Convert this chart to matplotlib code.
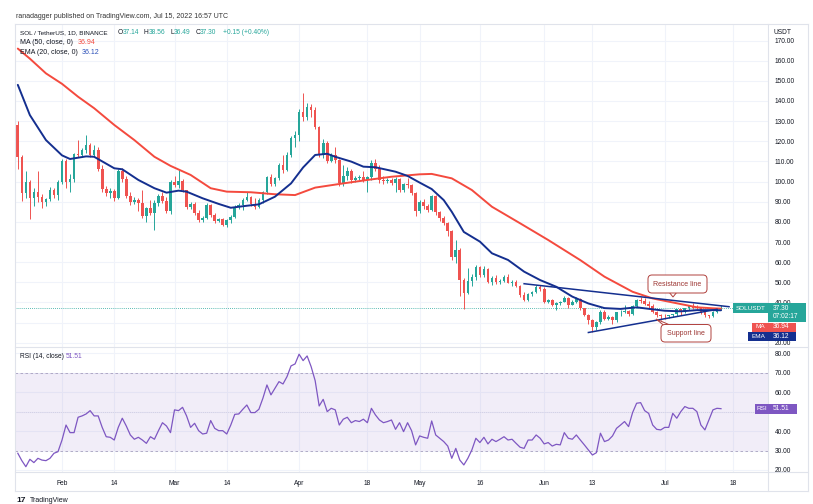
import matplotlib
matplotlib.use("Agg")
import matplotlib.pyplot as plt
import matplotlib.dates as mdates
from matplotlib.patches import Rectangle, FancyBboxPatch, Polygon
from matplotlib.lines import Line2D
from matplotlib.transforms import IdentityTransform
import numpy as np
import pandas as pd

plt.rcParams["font.family"] = ["Liberation Sans", "DejaVu Sans"]

W, H = 813, 504

TEAL = "#26a69a"
RED = "#ef5350"
MA_RED = "#f44a3e"
NAVY = "#142f8f"
PURPLE = "#7e57c2"
TXT = "#131722"
GRID = "#f0f3fa"
BORDER = "#e0e3eb"
NOTE = "#b0403c"

# daily SOL/USDT candles, 2022-01-21 .. 2022-07-15
opens = [128, 112.3, 94.5, 100, 92, 95, 92.5, 90, 91.5, 96, 93.5,
         100, 110, 100, 101.5, 113.5, 113, 115.8, 118, 113.2, 115.5, 106.2, 96.5, 94.5, 95.5,
         92, 105, 101.5, 93, 90, 91, 89.5, 83, 86.7, 84.2, 89.2, 92.8, 90.5, 85.5,
         100, 98.5, 100.5, 95.8, 87.5, 89, 84.2, 81, 82, 88.4, 83.4, 80.4, 81.5, 78.5, 81, 82.5,
         87.5, 88.5, 91, 92.5, 89, 87.5, 90.9, 95, 102.4, 99, 101.6, 108.2, 105.7, 113.2, 121.5,
         123, 134.7, 132.2, 137.2, 135.5, 127.3, 113.2, 119, 110, 113, 110.5, 99.5, 103, 105.2, 100.8,
         101.8, 102.5, 100.9, 102.4, 109, 106, 100.8, 100.3, 101, 99.5, 101.5, 95.8, 98.7, 98.3, 94.2,
         85.5, 90, 88, 86, 92.8, 85, 82, 79.5, 75.5, 62.5, 66, 51, 44.5, 50.5, 52.5, 57.5,
         53.5, 56.5, 50, 52, 50, 50.8, 52.5, 49.8, 50.2, 48, 43.7, 41, 44, 45, 47.5,
         46.5, 40.4, 41.2, 38.8, 39.5, 40.3, 42.2, 38.7, 40.2, 41.8, 37.1, 33.8, 31.5, 28, 30.5,
         35.5, 32, 33, 31.5, 35.3, 35.5, 36, 34.2, 38.2, 41, 40.6, 39, 38.2, 35.3, 34,
         33.2, 33.1, 33.6, 34.2, 36.6, 35.5, 37.1, 38, 37.5, 37.2, 35.1, 33.6, 33.2, 35.5, 37.14]
highs = [130, 113, 105, 101, 97, 105, 94, 92, 97.5, 97, 101,
         111, 111, 104, 114, 120.5, 116.5, 123, 119, 118, 117, 108, 98, 97, 96.5,
         106, 106.5, 103, 95, 92.5, 92, 96, 87.5, 91, 91, 94, 95, 92.5, 101,
         103, 105.7, 101.5, 96, 90, 90, 86, 83, 89.5, 89, 84.5, 82, 82, 81.5, 83.5,
         88.5, 89.5, 92, 95, 93, 92, 92, 95.5, 103, 104, 102.5, 109, 113, 114.5, 122.5, 125,
         136, 143.8, 139, 138.5, 137, 127.5, 121, 120, 114, 117, 111, 108, 107, 106, 103,
         103.5, 105, 103, 110.5, 111, 108, 103, 102, 102, 102.5, 102, 99.5, 102, 99, 95,
         91, 91.5, 89, 93.5, 93.5, 85.5, 83, 80, 76, 71, 67, 52, 57, 54, 58.5,
         58, 58, 57, 53, 53.5, 51.5, 53.5, 54, 51, 51, 48.5, 45, 44.5, 45.5, 48.5, 48.5,
         47.5, 41.5, 41.5, 40, 40.8, 43, 42.5, 41, 42.5, 42, 37.5, 34.5, 32, 31, 36.5,
         36.5, 34, 33.5, 35.5, 36.5, 38.5, 36.5, 38.5, 41.5, 42.5, 42.3, 40.5, 39, 35.8, 34.5,
         34.5, 34, 34.5, 36.9, 37, 37.5, 38.5, 39.5, 38.5, 37.5, 35.5, 34, 35.8, 37.5, 38.56]
lows = [106, 90.5, 92, 81.5, 88, 90, 87, 88, 90.5, 92, 91,
        99, 97, 95, 100, 112, 112, 114, 112, 112.5, 105, 95, 93, 92, 90.5,
        91.5, 100, 92, 88.5, 89, 85.5, 82, 80, 83.5, 76, 88, 89.5, 84.5, 84,
        97.5, 97, 95, 86.5, 86.5, 83.5, 80, 80, 81.5, 82.5, 79.5, 80, 78, 77.5, 79.5,
        82, 86.5, 86, 90.5, 88, 86.5, 87, 89.5, 94, 98, 98, 101, 104.5, 105, 112, 117,
        120, 130, 130.5, 132, 126, 112, 111.5, 109, 109.5, 109, 98, 98, 101, 99.5, 100,
        101, 100, 95, 101, 105, 99.5, 99, 99.5, 98.5, 95, 95, 95, 97, 93.5, 83,
        84.5, 86.5, 85, 85.5, 83.5, 80.5, 78.5, 73, 61, 59.5, 43, 37, 44, 48, 51,
        52.5, 52.5, 49.5, 48.5, 49, 49, 50, 49.5, 48, 47.5, 42.5, 40.5, 40.5, 43, 44.5, 45.5,
        39.5, 39.5, 38, 36.5, 38.5, 40, 37.5, 38.5, 39.5, 36.5, 33.5, 29.5, 25.5, 26.5, 29.5,
        31.5, 31.5, 29.5, 30.5, 33.5, 35, 33.5, 34, 37.5, 39.5, 38.5, 37.5, 35, 33, 31.5,
        32, 32.5, 33, 33.5, 34, 35, 36.5, 37, 36.8, 34.5, 33, 32.5, 32.8, 34.8, 36.49]
closes = [112.3, 94.5, 100, 92, 95, 92.5, 90, 91.5, 96, 93.5, 100,
          110, 100, 101.5, 113.5, 113, 115.8, 118, 113.2, 115.5, 106.2, 96.5, 94.5, 95.5, 92,
          105, 101.5, 93, 90, 91, 89.5, 83, 86.7, 84.2, 89.2, 92.8, 90.5, 85.5, 100,
          98.5, 100.5, 95.8, 87.5, 89, 84.2, 81, 82, 88.4, 83.4, 80.4, 81.5, 78.5, 81, 82.5,
          87.5, 88.5, 91, 92.5, 89, 87.5, 90.9, 95, 102.4, 99, 101.6, 108.2, 105.7, 113.2, 121.5, 123,
          134.7, 132.2, 137.2, 135.5, 127.3, 113.2, 119, 110, 113, 110.5, 99.5, 103, 105.2, 100.8, 101.8,
          102.5, 100.9, 102.4, 109, 106, 100.8, 100.3, 101, 99.5, 101.5, 95.8, 98.7, 98.3, 94.2, 85.5,
          90, 88, 86, 92.8, 85, 82, 79.5, 75.5, 62.5, 66, 51, 44.5, 50.5, 52.5, 57.5,
          53.5, 56.5, 50, 52, 50, 50.8, 52.5, 49.8, 50.2, 48, 43.7, 41, 44, 45, 47.5, 46.5,
          40.4, 41.2, 38.8, 39.5, 40.3, 42.2, 38.7, 40.2, 41.8, 37.1, 33.8, 31.5, 28, 30.5, 35.5,
          32, 33, 31.5, 35.3, 35.5, 36, 34.2, 38.2, 41, 40.6, 39, 38.2, 35.3, 34, 33.2,
          33.1, 33.6, 34.2, 36.6, 35.5, 37.1, 38, 37.5, 37.2, 35.1, 33.6, 33.2, 35.5, 37.15, 37.30]

rsi = [28.6, 24.8, 21.7, 25.5, 23.8, 26.0, 25.1, 24.8, 26.0, 28.6, 29.4,
       35.4, 43.1, 39.2, 39.2, 47.1, 47.8, 48.8, 50.5, 47.8, 47.8, 41.9, 37.1, 36.8, 35.4,
       41.9, 46.6, 42.6, 38.0, 35.8, 36.8, 35.4, 33.7, 37.1, 35.8, 40.2, 44.3, 42.6, 39.2,
       50.9, 50.5, 52.2, 47.8, 41.9, 44.0, 40.2, 38.5, 38.9, 45.4, 41.4, 40.2, 40.2, 38.5, 43.1,
       48.6, 48.8, 51.2, 53.4, 49.5, 49.5, 51.2, 56.9, 63.7, 58.6, 62.0, 65.4, 64.2, 68.0, 73.5, 74.5,
       79.5, 76.2, 78.6, 73.1, 65.9, 52.9, 56.3, 50.0, 51.7, 50.9, 43.1, 46.1, 47.1, 44.3, 45.4,
       44.9, 46.1, 44.3, 51.7, 48.3, 45.7, 44.3, 44.9, 45.7, 40.9, 44.3, 39.7, 44.3, 40.2, 32.9,
       37.5, 36.8, 36.3, 45.2, 38.0, 36.3, 34.6, 32.3, 26.0, 31.1, 25.1, 22.6, 26.0, 30.3, 36.3,
       34.1, 36.8, 33.4, 35.8, 34.6, 35.8, 37.1, 35.4, 35.8, 33.7, 31.7, 31.1, 35.4, 35.4, 38.0, 36.3,
       33.4, 34.1, 32.3, 33.2, 32.9, 39.2, 36.3, 35.8, 38.0, 35.4, 32.9, 30.3, 27.7, 28.9, 38.9,
       34.6, 35.4, 37.5, 41.4, 43.1, 44.9, 42.3, 49.5, 54.3, 54.6, 50.5, 49.1, 43.1, 40.9, 40.6,
       41.9, 41.9, 49.1, 46.6, 50.0, 52.6, 51.7, 51.7, 50.0, 43.1, 40.6, 45.7, 50.9, 51.7, 51.51]

# MA(50) and EMA(20)
ma_dates = ["2022-01-21", "2022-01-24", "2022-01-28", "2022-02-01", "2022-02-05", "2022-02-09",
            "2022-02-14", "2022-02-19", "2022-02-24", "2022-02-28", "2022-03-05", "2022-03-10",
            "2022-03-14", "2022-03-20", "2022-03-26", "2022-03-31", "2022-04-05", "2022-04-12",
            "2022-04-18", "2022-04-24", "2022-05-01", "2022-05-04", "2022-05-09", "2022-05-14",
            "2022-05-19", "2022-05-26", "2022-06-02", "2022-06-10", "2022-06-16", "2022-06-23",
            "2022-06-28", "2022-07-04", "2022-07-09", "2022-07-13", "2022-07-15"]
ma_values = [166, 161, 153.7, 148.5, 142.1, 136.4, 128.1, 120.6, 112.3, 107.8, 103.3, 96.7,
             95, 94.7, 93.7, 93.3, 97, 99.1, 100.8, 102.4, 103.6, 103.8, 101.6, 95.8,
             87.5, 79.3, 71.0, 61, 52.8, 45.3, 42.0, 39.6, 37.6, 37.1, 36.94]

ema_dates = ["2022-01-21", "2022-01-24", "2022-01-28", "2022-02-01", "2022-02-03", "2022-02-07",
             "2022-02-09", "2022-02-14", "2022-02-16", "2022-02-20", "2022-02-24", "2022-02-27",
             "2022-03-02", "2022-03-04", "2022-03-08", "2022-03-12", "2022-03-15", "2022-03-19",
             "2022-03-22", "2022-03-26", "2022-03-30", "2022-04-02", "2022-04-05", "2022-04-08",
             "2022-04-10", "2022-04-14", "2022-04-17", "2022-04-20", "2022-04-25", "2022-04-28",
             "2022-05-01", "2022-05-04", "2022-05-07", "2022-05-09", "2022-05-12", "2022-05-16",
             "2022-05-19", "2022-05-23", "2022-05-27", "2022-05-31", "2022-06-04", "2022-06-08",
             "2022-06-12", "2022-06-16", "2022-06-20", "2022-06-24", "2022-06-28", "2022-07-01",
             "2022-07-05", "2022-07-09", "2022-07-13", "2022-07-15"]
ema_values = [148, 133, 120.6, 113, 111.2, 112.5, 112.3, 106.6, 106.1, 100.8, 96.7, 94.5,
              95.5, 95, 91.7, 88.9, 87.0, 88.0, 88.7, 92.5, 99.1, 107, 113.2, 113.8,
              112.3, 109.9, 107.4, 107.1, 104.9, 102.8, 99.5, 96.3, 90.8, 85, 75, 70.2,
              64.4, 61.1, 55.3, 51.1, 47.8, 42.9, 39.5, 37.2, 36.8, 37.6, 36.6, 35.9,
              35.6, 36.2, 36.2, 36.12]

# hand-drawn trend lines
resistance_dates = ["2022-05-27", "2022-07-17"]
resistance_values = [49.3, 37.9]
support_dates = ["2022-06-12", "2022-07-14"]
support_values = [25.1, 36.6]

tick_dates = ["2022-02-01", "2022-02-14", "2022-03-01", "2022-03-14", "2022-04-01", "2022-04-18",
              "2022-05-01", "2022-05-16", "2022-06-01", "2022-06-13", "2022-07-01", "2022-07-18"]
tick_labels = ["Feb", "14", "Mar", "14", "Apr", "18", "May", "16", "Jun", "13", "Jul", "18"]
price_ticks = list(range(20, 180, 10))
rsi_ticks = [20, 30, 40, 50, 60, 70, 80]
# scale labels that sit fully under the last-value tags
hidden_price = {30}
hidden_rsi = {50}

dates = pd.date_range("2022-01-21", periods=len(closes), freq="D")
x = mdates.date2num(dates)
o, h, l, c = (np.array(v, dtype=float) for v in (opens, highs, lows, closes))


def to_num(ds):
    return mdates.date2num(pd.to_datetime(ds))


fig = plt.figure(figsize=(W / 100, H / 100), dpi=100)
fig.patch.set_facecolor("white")
renderer = fig.canvas.get_renderer()


def px_axes(left, top, right, bottom):
    return fig.add_axes([left / W, 1 - bottom / H, (right - left) / W, (bottom - top) / H])


def ftext(px, py, s, **kw):
    kw.setdefault("va", "center")
    kw.setdefault("fontsize", 5)
    kw.setdefault("color", TXT)
    kw.setdefault("zorder", 6)
    return fig.text(px / W, 1 - py / H, s, **kw)


def text_run(px, py, parts, gap=0.0, **kw):
    # place coloured pieces one after another on one line
    for s, col in parts:
        t = ftext(px, py, s, color=col, **kw)
        px = t.get_window_extent(renderer).x1 + gap


def fbox(left, top, right, bottom, color):
    fig.add_artist(Rectangle((left, H - bottom), right - left, bottom - top,
                             transform=IdentityTransform(), facecolor=color,
                             edgecolor="none", zorder=5))


def fline(xs, ys, color=BORDER, lw=0.8):
    fig.add_artist(Line2D(xs, [H - v for v in ys], transform=IdentityTransform(),
                          color=color, lw=lw, zorder=4))


ax = px_axes(15, 24, 768, 347)
rax = px_axes(15, 347, 768, 472)

feb1 = to_num("2022-02-01")
for a in (ax, rax):
    a.set_xlim(feb1 - 11.7, feb1 + 175.7)
    for s in a.spines.values():
        s.set_visible(False)
    a.set_xticks(to_num(tick_dates))
    a.grid(True, color=GRID, lw=0.8)
    a.set_axisbelow(True)
    a.yaxis.tick_right()
    a.tick_params(axis="y", length=0, pad=5, labelsize=4.8, labelcolor=TXT)
    a.tick_params(axis="x", length=0)

ax.set_ylim(17.9, 178.2)
ax.set_yticks(price_ticks)
ax.set_yticklabels(["" if v in hidden_price else f"{v:.2f}" for v in price_ticks])
ax.set_xticklabels([])

# candles
up = c >= o
colors = np.where(up, TEAL, RED)
ax.vlines(x, l, h, colors=colors, lw=0.7, zorder=3)
ax.bar(x, np.maximum(np.abs(c - o), 0.2), bottom=np.minimum(o, c), width=0.66,
       color=colors, linewidth=0, zorder=4)

ax.plot(to_num(ma_dates), ma_values, color=MA_RED, lw=1.4, zorder=5, solid_capstyle="round")
ax.plot(to_num(ema_dates), ema_values, color=NAVY, lw=1.4, zorder=6, solid_capstyle="round")
ax.plot(to_num(resistance_dates), resistance_values, color=NAVY, lw=1.1, zorder=7)
ax.plot(to_num(support_dates), support_values, color=NAVY, lw=1.1, zorder=7)
ax.axhline(c[-1], color=TEAL, lw=0.6, ls=(0, (1, 1.5)), zorder=2)

# RSI pane
rax.set_ylim(18.97, 83.2)
rax.set_yticks(rsi_ticks)
rax.set_yticklabels(["" if v in hidden_rsi else f"{v:.2f}" for v in rsi_ticks])
rax.set_xticklabels(tick_labels)
rax.tick_params(axis="x", pad=6, labelsize=4.8, labelcolor=TXT)
rax.axhspan(30, 70, color=PURPLE, alpha=0.1, lw=0)
for lvl in (30, 70):
    rax.axhline(lvl, color="#a7a0bf", lw=0.6, ls=(0, (3, 3)))
rax.axhline(50, color="#c4bfd6", lw=0.5, ls=(0, (1, 2)))
rax.plot(x, rsi, color=PURPLE, lw=0.9, zorder=4)

# frame
fline([15, 808], [24, 24])
fline([15, 808], [490.5, 490.5])
fline([15, 15], [24, 490.5])
fline([808, 808], [24, 490.5])
fline([768, 768], [24, 490.5])
fline([15, 808], [347, 347])
fline([15, 808], [472, 472])

# header
ftext(16, 16, "ranadagger published on TradingView.com, Jul 15, 2022 16:57 UTC", color="#333")
chg = c[-1] - c[-2]
ftext(20.5, 33, "SOL / TetherUS, 1D, BINANCE", fontsize=4.6)
text_run(118, 33, [("O", TXT), (f"{o[-1]:.2f}", TEAL)], fontsize=4.8)
text_run(144, 33, [("H", TXT), (f"{h[-1]:.2f}", TEAL)], fontsize=4.8)
text_run(170.5, 33, [("L", TXT), (f"{l[-1]:.2f}", TEAL)], fontsize=4.8)
text_run(195.5, 33, [("C", TXT), (f"{c[-1]:.2f}", TEAL)], fontsize=4.8)
ftext(223, 33, f"+{chg:.2f} (+{chg / c[-2] * 100:.2f}%)", color=TEAL, fontsize=4.8)
ftext(20.5, 42.5, "MA (50, close, 0)")
ftext(77.5, 42.5, f"{ma_values[-1]:.2f}", color=MA_RED)
ftext(20.5, 52.5, "EMA (20, close, 0)")
ftext(82, 52.5, f"{ema_values[-1]:.2f}", color="#2a4fb8")
ftext(20.5, 357, "RSI (14, close)", fontsize=4.8)
ftext(66, 357, f"{rsi[-1]:.2f}", fontsize=4.8, color=PURPLE)

# price scale extras
fbox(769, 26, 807, 37, "white")
ftext(773, 32.5, "USDT", fontsize=4.8)
fbox(733, 303, 768, 313, TEAL)
ftext(750.5, 308, "SOLUSDT", color="white", ha="center", fontsize=4.6)
fbox(768, 303, 806, 322, TEAL)
ftext(773, 308, f"{c[-1]:.2f}", color="white", fontsize=4.8)
ftext(773, 317, "07:02:17", color="white", fontsize=4.8)
fbox(752, 322.5, 768, 331.5, RED)
ftext(760, 327, "MA", color="white", ha="center", fontsize=4.6)
fbox(768, 322.5, 796, 331.5, RED)
ftext(773, 327, f"{ma_values[-1]:.2f}", color="white", fontsize=4.8)
fbox(748, 332, 768, 341, NAVY)
ftext(758, 336.5, "EMA", color="white", ha="center", fontsize=4.6)
fbox(768, 332, 796, 341, NAVY)
ftext(773, 336.5, f"{ema_values[-1]:.2f}", color="white", fontsize=4.8)
fbox(755, 404, 769, 414, PURPLE)
ftext(762, 409, "RSI", color="white", ha="center", fontsize=4.6)
fbox(769, 404, 797, 414, PURPLE)
ftext(773, 409, f"{rsi[-1]:.2f}", color="white", fontsize=4.8)


# callouts
def callout(left, top, right, bottom, label, tail):
    fig.add_artist(Polygon([(px, H - py) for px, py in tail], closed=True,
                           transform=IdentityTransform(), facecolor="white",
                           edgecolor=NOTE, lw=0.7, zorder=8))
    fig.add_artist(FancyBboxPatch((left, H - bottom), right - left, bottom - top,
                                  boxstyle="round,pad=0,rounding_size=4",
                                  transform=IdentityTransform(), facecolor="white",
                                  edgecolor=NOTE, lw=0.7, zorder=9))
    ftext((left + right) / 2, (top + bottom) / 2, label, color="#9c3532",
          ha="center", fontsize=5, zorder=10)


callout(648, 275, 707, 293, "Resistance line", [(669, 292), (673, 297), (677, 292)])
callout(661, 324.5, 711, 342, "Support line", [(664, 325.5), (656, 319), (671, 325.5)])

# footer logo
ftext(16, 501, "17", fontsize=6, fontweight="bold", color="#131722")
ftext(29.5, 501, "TradingView", fontsize=5, color="#131722")

fig.savefig("out.png", dpi=100, facecolor="white")
